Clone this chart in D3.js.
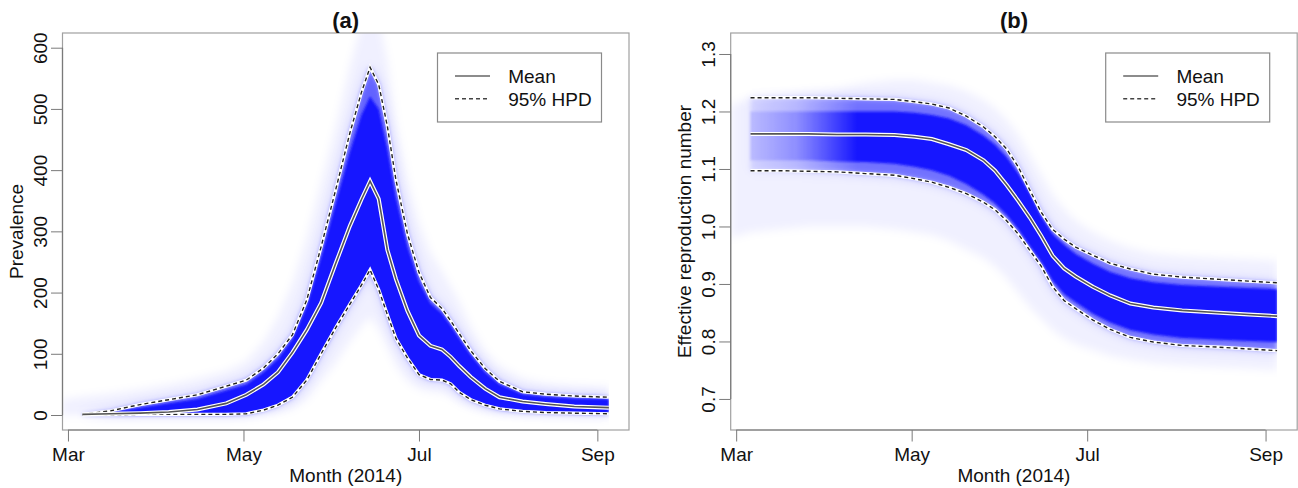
<!DOCTYPE html>
<html>
<head>
<meta charset="utf-8">
<script src="https://cdn.jsdelivr.net/npm/d3@7"></script>
<style>
  body { margin: 0; background: #fff; }
  svg { display: block; }
</style>
</head>
<body>
<svg id="chart" width="1298" height="488"></svg>
<script>
// ---- data (days counted from 1 March 2014) ----
var daysA = [-2, 5, 15, 25, 35, 45, 55, 62, 68, 73, 78, 83, 88, 93, 98, 102, 105,
             108, 111, 114, 118, 122, 126, 130, 133, 136, 140, 145, 150, 158, 166, 176, 188];
var prevOuterHi = [25, 30, 35, 42, 50, 60, 72, 88, 120, 160, 215, 290, 380, 470, 570, 640, 670,
                   650, 580, 480, 385, 315, 265, 235, 210, 185, 145, 105, 80, 60, 52, 48, 46];
var prevUpper = [null, 1, 7, 17, 25, 33, 47, 57, 77, 100, 131, 188, 275, 367, 461, 527, 568,
                 540, 472, 384, 296, 233, 192, 174, 154, 133, 105, 76, 55, 38, 34, 31, 29];
var prevCoreHi = [null, 1, 5, 12, 19, 26, 40, 50, 70, 92, 124, 178, 258, 345, 430, 490, 520,
                  500, 435, 355, 275, 218, 182, 166, 146, 125, 98, 70, 50, 34, 30, 27, 26];
var prevMean = [null, 1, 2, 3, 5, 9, 19, 33, 50, 70, 102, 139, 183, 247, 309, 352, 382,
                353, 270, 222, 170, 130, 113, 107, 95, 80, 62, 43, 29, 22, 18, 14, 12];
var prevLower = [null, 0, 0, 1, 1, 1, 1, 2, 8, 16, 29, 57, 100, 142, 181, 212, 237,
                 205, 164, 125, 93, 66, 58, 57, 51, 37, 25, 16, 10, 6, 4, 3, 2];
var prevOuterLo = [0, 0, 0, 0, 0, 0, 0, 0, 2, 5, 10, 25, 55, 85, 120, 145, 160,
                   140, 110, 80, 55, 42, 38, 36, 30, 20, 12, 6, 3, 1, 0, 0, 0];

var daysB = [-2, 5, 15, 25, 35, 45, 55, 62, 68, 74, 80, 86, 90, 94, 98, 102, 106,
             110, 114, 118, 124, 130, 137, 145, 155, 168, 178, 188];
var reffOuterHi = [1.21, 1.225, 1.23, 1.235, 1.24, 1.25, 1.255, 1.255, 1.25, 1.245, 1.235, 1.22, 1.205, 1.185, 1.16, 1.125, 1.09,
                   1.055, 1.03, 1.01, 0.99, 0.975, 0.962, 0.953, 0.948, 0.945, 0.943, 0.94];
var reffUpper = [null, 1.224, 1.224, 1.224, 1.223, 1.222, 1.221, 1.217, 1.213, 1.206, 1.192, 1.173, 1.156, 1.135, 1.104, 1.064, 1.025,
                 0.995, 0.978, 0.964, 0.950, 0.936, 0.926, 0.917, 0.912, 0.908, 0.905, 0.902];
var reffCoreHi = [null, 1.200, 1.200, 1.200, 1.200, 1.200, 1.200, 1.198, 1.194, 1.188, 1.176, 1.158, 1.142, 1.121, 1.093, 1.058, 1.018,
                  0.987, 0.968, 0.952, 0.935, 0.921, 0.910, 0.903, 0.898, 0.895, 0.893, 0.891];
var reffMean = [null, 1.161, 1.161, 1.161, 1.160, 1.160, 1.159, 1.156, 1.152, 1.143, 1.133, 1.115, 1.097, 1.072, 1.045, 1.016, 0.984,
                0.949, 0.927, 0.913, 0.895, 0.880, 0.866, 0.859, 0.854, 0.850, 0.847, 0.844];
var reffCoreLo = [null, 1.115, 1.115, 1.115, 1.113, 1.112, 1.109, 1.104, 1.098, 1.088, 1.074, 1.055, 1.040, 1.020, 0.995, 0.966, 0.938,
                  0.905, 0.882, 0.868, 0.848, 0.833, 0.820, 0.812, 0.806, 0.803, 0.801, 0.799];
var reffLower = [null, 1.097, 1.097, 1.096, 1.095, 1.092, 1.089, 1.083, 1.077, 1.068, 1.057, 1.042, 1.029, 1.010, 0.987, 0.959, 0.931,
                 0.895, 0.871, 0.857, 0.837, 0.821, 0.807, 0.799, 0.793, 0.790, 0.787, 0.784];
var reffOuterLo = [0.98, 0.99, 0.995, 1.0, 1.0, 1.0, 0.995, 0.99, 0.985, 0.975, 0.96, 0.945, 0.93, 0.91, 0.885, 0.86, 0.84,
                   0.82, 0.805, 0.795, 0.785, 0.775, 0.768, 0.762, 0.758, 0.755, 0.753, 0.75];

var monthTicks = ["2014-03-01", "2014-05-01", "2014-07-01", "2014-09-01"];
var prevTicks = [0, 100, 200, 300, 400, 500, 600];
var reffTicks = [0.7, 0.8, 0.9, 1.0, 1.1, 1.2, 1.3];
var legendLabels = ["Mean", "95% HPD"];

// ---- layout ----
var svg = d3.select("#chart");
var font = "'Liberation Sans', Arial, Helvetica, sans-serif";
var plotTop = 33, plotBottom = 430, plotW = 566.5;
var start = Date.UTC(2014, 2, 1);
function dayToDate(d) { return new Date(start + d * 86400000); }

var defs = svg.append("defs");
[["blurHalo", 4], ["blurGlow", 6], ["blurBand", 2.2], ["blurCore", 1.2]].forEach(function(f) {
  defs.append("filter").attr("id", f[0])
      .attr("x", "-5%").attr("y", "-5%").attr("width", "110%").attr("height", "110%")
    .append("feGaussianBlur").attr("stdDeviation", f[1]);
});

drawPanel({
  id: "a", left: 62.5, title: "(a)", ylab: "Prevalence",
  days: daysA, yDomain: [-24.5, 624], ticks: prevTicks, fmt: d3.format("d"),
  outerHi: prevOuterHi, upper: prevUpper, coreHi: prevCoreHi, mean: prevMean,
  coreLo: prevLower, lower: prevLower, outerLo: prevOuterLo, fade: false
});

drawPanel({
  id: "b", left: 730.7, title: "(b)", ylab: "Effective reproduction number",
  days: daysB, yDomain: [0.646, 1.3365], ticks: reffTicks, fmt: d3.format(".1f"),
  outerHi: reffOuterHi, upper: reffUpper, coreHi: reffCoreHi, mean: reffMean,
  coreLo: reffCoreLo, lower: reffLower, outerLo: reffOuterLo, fade: true
});

function drawPanel(o) {
  var right = o.left + plotW;
  var x = d3.scaleUtc().domain([dayToDate(-1.9), dayToDate(195)]).range([o.left, right]);
  var y = d3.scaleLinear().domain(o.yDomain).range([plotBottom, plotTop]);

  var rows = o.days.map(function(d, i) {
    return {
      date: dayToDate(d), outerHi: o.outerHi[i], upper: o.upper[i], coreHi: o.coreHi[i],
      mean: o.mean[i], coreLo: o.coreLo[i], lower: o.lower[i], outerLo: o.outerLo[i]
    };
  });
  var lastX = x(dayToDate(o.days[o.days.length - 1]));

  defs.append("clipPath").attr("id", "clip" + o.id)
    .append("rect").attr("x", o.left).attr("y", plotTop)
    .attr("width", lastX - o.left).attr("height", plotBottom - plotTop);

  // density fades in from the left (panel b)
  if (o.fade) {
    var gr = defs.append("linearGradient").attr("id", "fade" + o.id)
      .attr("gradientUnits", "userSpaceOnUse")
      .attr("x1", x(dayToDate(0))).attr("x2", x(dayToDate(42))).attr("y1", 0).attr("y2", 0);
    gr.append("stop").attr("offset", 0).attr("stop-color", "#fff").attr("stop-opacity", 0.18);
    gr.append("stop").attr("offset", 0.5).attr("stop-color", "#fff").attr("stop-opacity", 0.45);
    gr.append("stop").attr("offset", 1).attr("stop-color", "#fff").attr("stop-opacity", 1);
    defs.append("mask").attr("id", "mask" + o.id).attr("maskUnits", "userSpaceOnUse")
      .attr("x", 0).attr("y", 0).attr("width", 1298).attr("height", 488)
      .append("rect").attr("x", o.left).attr("y", plotTop)
      .attr("width", plotW).attr("height", plotBottom - plotTop)
      .attr("fill", "url(#fade" + o.id + ")");
  }

  function area(lo, hi) {
    return d3.area()
      .defined(function(d) { return d[lo] != null && d[hi] != null; })
      .x(function(d) { return x(d.date); })
      .y0(function(d) { return y(d[lo]); })
      .y1(function(d) { return y(d[hi]); });
  }
  function line(key) {
    return d3.line()
      .defined(function(d) { return d[key] != null; })
      .x(function(d) { return x(d.date); })
      .y(function(d) { return y(d[key]); });
  }

  var bands = svg.append("g").attr("clip-path", "url(#clip" + o.id + ")");
  bands.append("path").datum(rows).attr("d", area("outerLo", "outerHi"))
    .attr("fill", "#0000ff").attr("fill-opacity", 0.06).attr("filter", "url(#blurHalo)");
  var dense = bands.append("g");
  if (o.fade) dense.attr("mask", "url(#mask" + o.id + ")");
  dense.append("path").datum(rows).attr("d", area("lower", "upper"))
    .attr("fill", "#0000ff").attr("fill-opacity", 0.2).attr("filter", "url(#blurGlow)");
  dense.append("path").datum(rows).attr("d", area("lower", "upper"))
    .attr("fill", "#0000ff").attr("fill-opacity", o.fade ? 0.42 : 0.5).attr("filter", "url(#blurBand)");
  dense.append("path").datum(rows).attr("d", area("coreLo", "coreHi"))
    .attr("fill", "#1414ff").attr("filter", "url(#blurCore)");

  // HPD and mean lines with white underlay
  ["upper", "lower"].forEach(function(k) {
    svg.append("path").datum(rows).attr("d", line(k))
      .attr("fill", "none").attr("stroke", "#fff").attr("stroke-width", 3.2);
    svg.append("path").datum(rows).attr("d", line(k))
      .attr("fill", "none").attr("stroke", "#222").attr("stroke-width", 1.4)
      .attr("stroke-dasharray", "4,3");
  });
  svg.append("path").datum(rows).attr("d", line("mean"))
    .attr("fill", "none").attr("stroke", "#fff").attr("stroke-width", 4);
  svg.append("path").datum(rows).attr("d", line("mean"))
    .attr("fill", "none").attr("stroke", "#555").attr("stroke-width", 1.6);

  // box
  svg.append("rect").attr("x", o.left).attr("y", plotTop)
    .attr("width", plotW).attr("height", plotBottom - plotTop)
    .attr("fill", "none").attr("stroke", "#a0a0a0").attr("stroke-width", 1.2);

  // x axis
  var tickDates = monthTicks.map(function(s) { return new Date(s + "T00:00:00Z"); });
  var gx = svg.append("g").attr("transform", "translate(0," + plotBottom + ")")
    .call(d3.axisBottom(x).tickValues(tickDates).tickFormat(d3.utcFormat("%b"))
      .tickSize(11.5).tickPadding(6).tickSizeOuter(0))
    .attr("font-size", 19).attr("font-family", font);
  gx.select(".domain").remove();
  gx.selectAll("line").attr("stroke", "#7a7a7a");
  gx.selectAll("text").attr("fill", "#111");
  gx.append("line").attr("x1", x(tickDates[0])).attr("x2", x(tickDates[tickDates.length - 1]))
    .attr("stroke", "#7a7a7a").attr("stroke-width", 1.2);

  // y axis
  var gy = svg.append("g").attr("transform", "translate(" + o.left + ",0)")
    .call(d3.axisLeft(y).tickValues(o.ticks).tickFormat(o.fmt).tickSize(11.5).tickSizeOuter(0))
    .attr("font-size", 19).attr("font-family", font);
  gy.select(".domain").remove();
  gy.selectAll("line").attr("stroke", "#7a7a7a");
  gy.selectAll("text").attr("x", 0).attr("dy", null).attr("fill", "#111")
    .attr("text-anchor", "middle").attr("transform", "translate(-16,0) rotate(-90)");
  gy.append("line").attr("y1", y(o.ticks[0])).attr("y2", y(o.ticks[o.ticks.length - 1]))
    .attr("stroke", "#7a7a7a").attr("stroke-width", 1.2);

  // titles
  var cx = o.left + plotW / 2, cy = (plotTop + plotBottom) / 2;
  svg.append("text").attr("x", cx).attr("y", 27.5).attr("text-anchor", "middle")
    .attr("font-family", font).attr("font-size", 22).attr("font-weight", "bold")
    .attr("fill", "#111").text(o.title);
  svg.append("text").attr("x", cx).attr("y", 482).attr("text-anchor", "middle")
    .attr("font-family", font).attr("font-size", 19).attr("fill", "#111").text("Month (2014)");
  svg.append("text").attr("transform", "translate(" + (o.left - 40) + "," + cy + ") rotate(-90)")
    .attr("text-anchor", "middle").attr("font-family", font).attr("font-size", 19)
    .attr("fill", "#111").text(o.ylab);

  // legend
  var lg = svg.append("g").attr("transform", "translate(" + (right - 27.5 - 164) + "," + (plotTop + 20) + ")");
  lg.append("rect").attr("width", 164).attr("height", 69)
    .attr("fill", "#fff").attr("stroke", "#8a8a8a").attr("stroke-width", 1.2);
  lg.selectAll("g.item").data(legendLabels).enter().append("g")
    .attr("class", "item")
    .attr("transform", function(d, i) { return "translate(0," + (30.3 + i * 22.7) + ")"; })
    .each(function(d, i) {
      var it = d3.select(this);
      it.append("line").attr("x1", 17.5).attr("x2", 52.5).attr("y1", -7.3).attr("y2", -7.3)
        .attr("stroke", i === 0 ? "#666" : "#444").attr("stroke-width", 1.5)
        .attr("stroke-dasharray", i === 0 ? null : "4,3");
      it.append("text").attr("x", 70.7).attr("font-family", font).attr("font-size", 19)
        .attr("fill", "#111").text(d);
    });
}
</script>
</body>
</html>
